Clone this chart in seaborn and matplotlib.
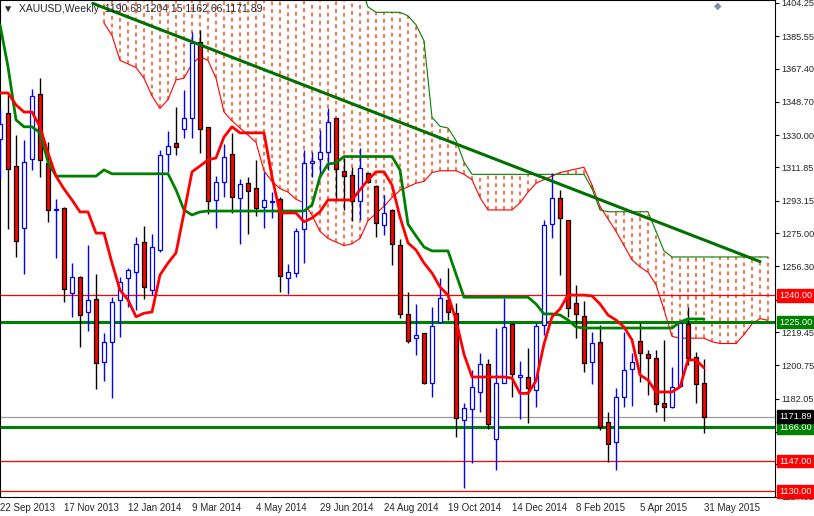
import numpy as np
import pandas as pd
import matplotlib
matplotlib.use("Agg")
import matplotlib.pyplot as plt
import matplotlib.transforms as mtransforms
import seaborn as sns

# weekly XAUUSD candles, index -1 .. 87 (week of 22 Sep 2013 .. 31 May 2015)
opens = [1327.8, 1342.5, 1312.7, 1277.9, 1316.7, 1353.2, 1314.4, 1288, 1289.1, 1241.4,
         1250.4, 1230.7, 1238, 1202.7, 1213.9, 1237.5, 1249.8, 1253.2, 1270, 1243,
         1265.5, 1319.5, 1325.7, 1333.5, 1339.7, 1382.4, 1334.6, 1293.6, 1303.8, 1319.5,
         1294.8, 1303.2, 1300.4, 1289.7, 1292.5, 1294.2, 1249.8, 1252.6, 1277.3, 1314.4,
         1316.7, 1320.6, 1339.7, 1309.9, 1307.7, 1293, 1308.8, 1301.5, 1279.6, 1288,
         1268.4, 1229.6, 1216.1, 1218.9, 1190.8, 1225.1, 1237.5, 1230.1, 1170, 1176.2,
         1185.8, 1201.5, 1159.4, 1190.8, 1224, 1194.2, 1194.2, 1186.9, 1223.4, 1280.2,
         1294.8, 1282.4, 1235.8, 1228.5, 1202.6, 1213.9, 1168.9, 1157.7, 1183, 1198.6,
         1214.4, 1207.1, 1204.9, 1179.6, 1177.3, 1189.1, 1224, 1205.4, 1190.7]
highs = [1344.2, 1352.6, 1330.2, 1327.3, 1356, 1362.2, 1326.2, 1294.2, 1289.7, 1258.2,
         1251, 1268.4, 1252, 1219, 1239.2, 1250.2, 1255.4, 1272.9, 1279, 1274.5,
         1321.7, 1332.4, 1345.9, 1355.4, 1388, 1389.1, 1334.6, 1307, 1325, 1331.3,
         1305.4, 1306.6, 1316.1, 1309.4, 1298, 1295.3, 1257.7, 1277.9, 1321.7, 1320.6,
         1333, 1345.3, 1339.7, 1317.2, 1312.2, 1322.8, 1308.8, 1302, 1296.4, 1288.6,
         1271.7, 1242, 1235.2, 1218.9, 1233.5, 1249.8, 1255.4, 1235.8, 1179.6, 1198,
         1207.7, 1204.3, 1221.7, 1238.6, 1224.5, 1203.2, 1210.5, 1224.5, 1282.4, 1308.8,
         1299.3, 1282.4, 1245.9, 1236.9, 1219.5, 1223.4, 1174.5, 1188, 1219.5, 1207.7,
         1224.5, 1209.4, 1209.4, 1215, 1199.8, 1225.5, 1233.5, 1208.2, 1204.2]
lows = [1305.9, 1277.4, 1261.6, 1252, 1310.5, 1306.6, 1281.3, 1261, 1236.3, 1227.9,
        1211, 1220, 1187.5, 1192, 1182.4, 1216.7, 1233.5, 1231.8, 1238, 1240,
        1264.4, 1309.4, 1318.9, 1328.5, 1328.5, 1320, 1286, 1277.9, 1295, 1286.3,
        1268.9, 1274.5, 1284.6, 1277.9, 1283.5, 1242, 1240.8, 1250.4, 1258.2, 1306.6,
        1306.6, 1310.5, 1293.6, 1288, 1281.8, 1282.4, 1303.2, 1272.8, 1274, 1257.1,
        1227.3, 1213.3, 1206.6, 1190.3, 1183, 1224.5, 1226.2, 1160.5, 1131.8, 1145.9,
        1174.5, 1165, 1142, 1190.8, 1183, 1170.6, 1168.4, 1177.3, 1217.8, 1272.3,
        1251.5, 1227.9, 1216.1, 1197, 1190.3, 1164.5, 1146.4, 1142, 1177.3, 1177.9,
        1191.4, 1184.1, 1174.5, 1169.5, 1176.8, 1188.6, 1200.9, 1179.6, 1162.7]
closes = [1336.3, 1311, 1270.6, 1315, 1352, 1316.1, 1288, 1288.5, 1243.6, 1250.4,
          1229, 1237.5, 1202, 1213.9, 1236.3, 1247.5, 1254.3, 1268.9, 1244.8, 1267.2,
          1318.9, 1324, 1323.4, 1339.7, 1381.8, 1333.5, 1293, 1303.8, 1317.8, 1295.3,
          1302.6, 1298.7, 1289.1, 1293.6, 1292.8, 1250.9, 1253.2, 1276.2, 1314.4, 1315.5,
          1320.6, 1337.5, 1311, 1307.1, 1293, 1311.6, 1303.8, 1280.7, 1286.5, 1268.9,
          1229.6, 1214.4, 1217.8, 1190.8, 1222.9, 1238.6, 1230.7, 1171.2, 1176.7, 1188.6,
          1201.5, 1167.8, 1190.8, 1222.3, 1195.9, 1195.3, 1188, 1222.9, 1279.6, 1294.8,
          1283.5, 1233, 1229.6, 1202, 1213.3, 1166.1, 1156.6, 1183, 1198.1, 1202.6,
          1207.7, 1204.9, 1179, 1177.3, 1188.6, 1224.5, 1204.9, 1190.3, 1171.9]

tenkan = [1353.7, 1353.7, 1347, 1343, 1343, 1334.7, 1320, 1307, 1299.8, 1293.6,
          1286.9, 1286.9, 1275, 1275, 1258.2, 1243, 1237.5, 1228, 1230, 1230.7,
          1251.5, 1258.2, 1263.9, 1286.3, 1309.4, 1312.7, 1316.1, 1317.2, 1329, 1334.7,
          1331.3, 1331.3, 1331.3, 1331.3, 1306.6, 1286.3, 1286.3, 1286.3, 1281.3, 1283.5,
          1287, 1293.6, 1293.6, 1293.6, 1293.6, 1299.3, 1304.9, 1309.4, 1309.4, 1302,
          1284, 1269.5, 1265.5, 1258.2, 1252.6, 1244.7, 1240.2, 1226.2, 1207, 1194.2,
          1194.2, 1194.2, 1194.2, 1194.2, 1193.6, 1185, 1185, 1192, 1212.7, 1227.9,
          1232.4, 1240.2, 1240.2, 1240.2, 1239.7, 1235.2, 1229, 1226.2, 1222.3, 1215,
          1195.3, 1192.5, 1185.8, 1185.8, 1185.8, 1188.6, 1203.8, 1203.8, 1199.3]
kijun = [1392, 1368.4, 1338.6, 1334.7, 1334.7, 1331.3, 1315, 1307, 1307, 1307,
         1307, 1307, 1307, 1310.5, 1308.3, 1308.3, 1308.3, 1308.3, 1308.3, 1308.3,
         1308.3, 1308.3, 1299.3, 1288, 1285.2, 1286.9, 1287.4, 1287.4, 1287.4, 1287.4,
         1287.4, 1287.4, 1287.4, 1287.4, 1287.4, 1287.4, 1287.4, 1287.4, 1287.4, 1290.8,
         1306.6, 1313.8, 1314.4, 1318, 1318, 1318, 1318, 1318, 1318, 1318,
         1310.5, 1280, 1273.4, 1267.2, 1265, 1265, 1265, 1252, 1239, 1239,
         1239, 1239, 1239, 1239, 1239, 1239, 1239, 1235.2, 1229.6, 1229.6,
         1229, 1226.2, 1222.3, 1221.7, 1221.7, 1221.7, 1221.7, 1221.7, 1221.7, 1221.7,
         1221.7, 1221.7, 1221.7, 1221.7, 1221.7, 1225, 1226.8, 1226.8, 1226.8]

# cloud spans, index 12 .. 95 (shifted forward)
span_a = [1393, 1386, 1372, 1370, 1368, 1362, 1352, 1345, 1350, 1361,
          1362, 1370, 1374, 1372, 1362, 1343, 1338, 1334, 1330, 1326,
          1310, 1304, 1300, 1298, 1294, 1292, 1285, 1276, 1272, 1270,
          1268, 1269, 1272, 1282, 1286, 1290, 1295, 1299, 1301, 1303,
          1304, 1309, 1310, 1310, 1310, 1308, 1305, 1295, 1288, 1288,
          1288, 1288, 1292, 1298, 1303, 1305, 1307, 1309, 1310, 1311,
          1312, 1302, 1290, 1283, 1276, 1268, 1260, 1256, 1253, 1246,
          1232, 1217, 1216, 1216, 1216, 1216, 1214, 1213, 1213, 1213,
          1218, 1224, 1227, 1226]
span_b = ([1415] * 33 + [1402] + [1399] * 4 + [1397, 1392, 1383, 1340, 1335, 1334, 1327, 1315]
          + [1308] * 15 + [1300, 1288] + [1287] * 6 + [1276, 1265] + [1261.6] * 13)

trend_k = [10.6, 94]
trend_p = [1404, 1259]

levels = [1240.00, 1225.00, 1166.00, 1147.00, 1130.00]
level_colors = ["#FF0000", "#008000", "#008000", "#FF0000", "#FF0000"]
level_widths = [0.9, 2.2, 2.2, 0.9, 0.9]
last_price = 1171.89

ytick_vals = [1404.25, 1385.55, 1367.40, 1348.70, 1330.00, 1311.85, 1293.15, 1275.00,
              1256.30, 1237.60, 1219.45, 1200.75, 1182.05, 1163.35, 1145.20, 1127.05]
xtick_pos = [-1, 7, 15, 23, 31, 39, 47, 55, 63, 71, 79, 87]
xtick_labels = ["22 Sep 2013", "17 Nov 2013", "12 Jan 2014", "9 Mar 2014", "4 May 2014",
                "29 Jun 2014", "24 Aug 2014", "19 Oct 2014", "14 Dec 2014", "8 Feb 2015",
                "5 Apr 2015", "31 May 2015"]

sns.set_style("white")
plt.rcParams["font.family"] = ["Liberation Sans", "DejaVu Sans"]
FS = 6.6

fig = plt.figure(figsize=(8.14, 5.16), dpi=100)
ax = fig.add_axes([0.0, 0.0368, 775 / 814, 0.9632])

k = np.arange(-1, len(opens) - 1)
ck = np.arange(12, 12 + len(span_a))
a = np.array(span_a)
b = np.array(span_b)

# cloud hatch
ax.vlines(ck, np.minimum(a, b), np.maximum(a, b), colors="#FF4A14", linestyles=(0, (2.5, 2.5)),
          linewidth=1.1, zorder=1)
cloud = pd.DataFrame({"k": ck, "a": a, "b": b})
sns.lineplot(data=cloud, x="k", y="a", color="#FF0000", linewidth=0.8, ax=ax, zorder=2)
sns.lineplot(data=cloud, x="k", y="b", color="#008000", linewidth=0.8, ax=ax, zorder=2)

# horizontal levels
for lv, c, w in zip(levels, level_colors, level_widths):
    ax.axhline(lv, color=c, linewidth=w, zorder=2)
ax.axhline(last_price, color="#9A9A9A", linewidth=0.9, zorder=2)

# candles
for i, o, h, l, c in zip(k, opens, highs, lows, closes):
    up = c >= o
    col = "#0000FF" if up else "#000000"
    ax.vlines(i, l, h, color=col, linewidth=1.0, zorder=3)
    lo, hi = min(o, c), max(o, c)
    ax.add_patch(plt.Rectangle((i - 0.3, lo), 0.6, max(hi - lo, 0.6),
                               facecolor="white" if up else "#FF0000",
                               edgecolor="#0000FF" if up else "#000000",
                               linewidth=0.9, zorder=4))

lines = pd.DataFrame({"k": k, "tenkan": tenkan, "kijun": kijun})
sns.lineplot(data=lines, x="k", y="kijun", color="#008000", linewidth=2.0, ax=ax, zorder=5)
sns.lineplot(data=lines, x="k", y="tenkan", color="#FF0000", linewidth=2.0, ax=ax, zorder=5)

ax.plot(trend_k, trend_p, color="#007000", linewidth=2.2, zorder=6)

ax.set_xlim(-1, 95.875)
ax.set_ylim(1126.8, 1405.9)
ax.set_xlabel("")
ax.set_ylabel("")
ax.yaxis.tick_right()
ax.set_yticks(ytick_vals)
ax.set_yticklabels([f"{v:.2f}" for v in ytick_vals], fontsize=FS)
ax.set_xticks(xtick_pos)
ax.set_xticklabels(xtick_labels, fontsize=7, ha="left")
ax.tick_params(axis="both", direction="out", length=3, width=0.8, color="black", pad=1.5)
for s in ax.spines.values():
    s.set_color("black")
    s.set_linewidth(0.8)

trans = mtransforms.blended_transform_factory(ax.transAxes, ax.transData)
box_colors = {1240.00: "#FF0000", 1225.00: "#008000", 1166.00: "#008000",
              1147.00: "#FF0000", 1130.00: "#FF0000"}
for lv, c in box_colors.items():
    ax.text(1.005, lv, f"{lv:.2f}", transform=trans, fontsize=FS, color="white",
            va="center", ha="left", clip_on=False, zorder=10,
            bbox=dict(boxstyle="square,pad=0.2", facecolor=c, edgecolor=c))
ax.text(1.005, last_price, f"{last_price:.2f}", transform=trans, fontsize=FS, color="white",
        va="center", ha="left", clip_on=False, zorder=10,
        bbox=dict(boxstyle="square,pad=0.2", facecolor="black", edgecolor="black"))

ax.text(0.004, 0.992, "\u25bc  XAUUSD,Weekly  1190.68 1204.15 1162.66 1171.89",
        transform=ax.transAxes, fontsize=7.5, va="top", ha="left", zorder=10)
ax.text(0.926, 0.988, "\u25c6", transform=ax.transAxes, fontsize=7, color="#8090A0",
        va="center", ha="center", zorder=10)

fig.savefig("out.png", dpi=100)
